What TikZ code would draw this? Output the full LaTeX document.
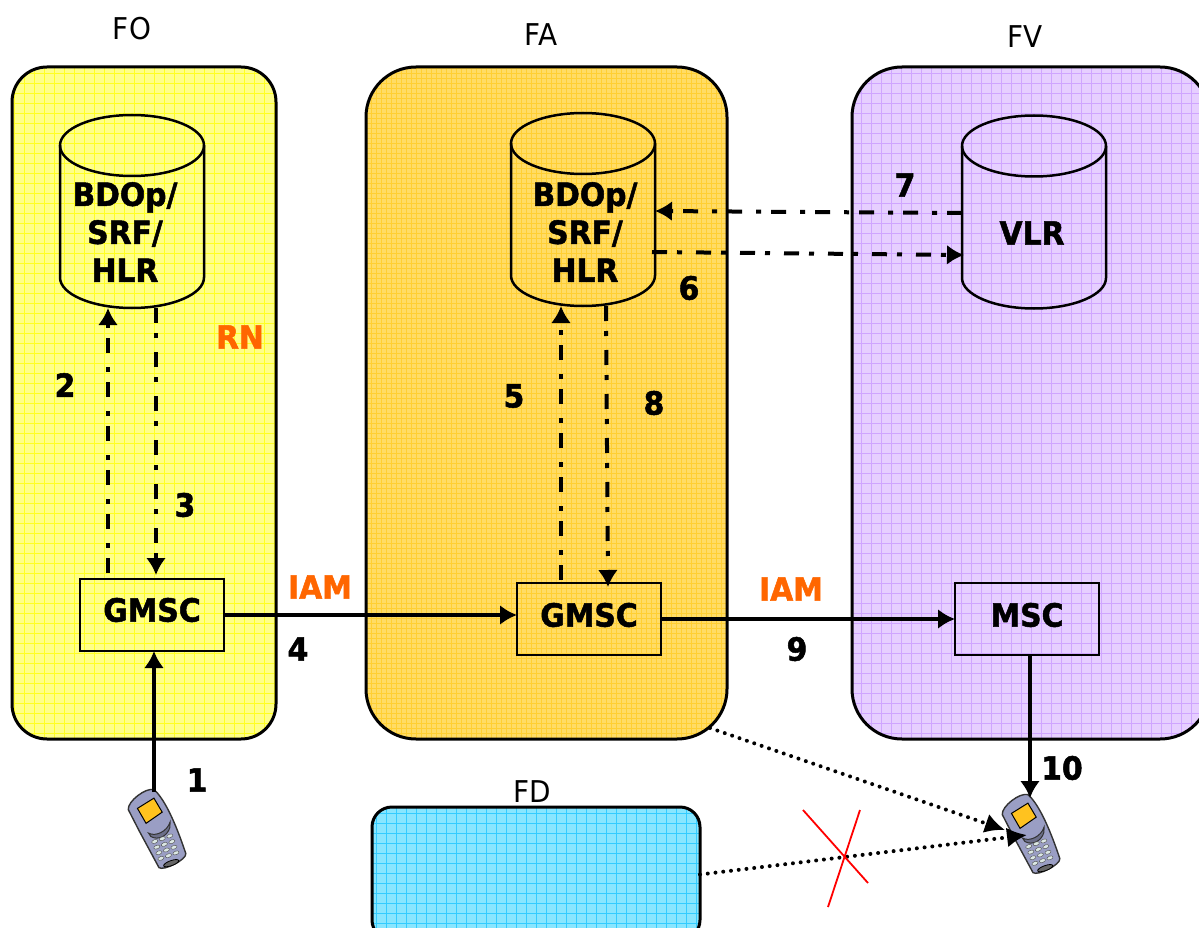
\documentclass[tikz,border=0pt]{standalone}
\usepackage{fontspec}
\setmainfont{DejaVu Sans}[FakeStretch=0.93,BoldFeatures={FakeBold=1.6}]
\usepackage{xcolor}
\usetikzlibrary{shapes,calc}
\usetikzlibrary{arrows.meta}
\definecolor{rnorange}{HTML}{FF6600}
\definecolor{zoneyellow}{HTML}{FFFF88}
\definecolor{gridyellow}{HTML}{FFFF22}
\definecolor{zoneorange}{HTML}{FFDC66}
\definecolor{gridorange}{HTML}{FFCF33}
\definecolor{zonepurple}{HTML}{E6CFFF}
\definecolor{gridpurple}{HTML}{CFA5FF}
\definecolor{zoneblue}{HTML}{88E6FF}
\definecolor{gridblue}{HTML}{33CCFF}
\definecolor{phonebody}{HTML}{9A9EC4}
\definecolor{phonekey}{HTML}{DCE8E4}
\definecolor{phonescreen}{HTML}{FFC21F}
\tikzset{
zone/.style={draw=black,line width=3pt,inner sep=0pt,outer sep=0pt,path picture={\draw[#1,line width=0.9pt] (path picture bounding box.south west) grid (path picture bounding box.north east);}},
dbase/.style={inner sep=0pt,outer sep=0pt,minimum width=144pt,minimum height=193pt},
swbox/.style={draw=black,line width=2.4pt,inner sep=0pt,outer sep=0pt,minimum width=144pt,minimum height=72pt},
lab/.style={font=\fontsize{32}{38}\selectfont\bfseries,align=center,inner sep=0pt},
ttl/.style={font=\fontsize{30}{36}\selectfont,inner sep=0pt},
iam/.style={lab,text=rnorange},
sig/.style={line width=4pt,-{Latex[length=17pt,width=20pt]}},
dashsig/.style={sig,dash pattern=on 15pt off 10pt on 5pt off 14pt},
dotsig/.style={line width=4pt,line cap=round,dash pattern=on 0pt off 7.8pt,-{Latex[length=20pt,width=20pt]}},
phone/.pic={
\filldraw[draw=black!80,line width=1.4pt,fill=phonebody] (-20,-29) .. controls (-18,-37) and (4,-44) .. (11,-39) .. controls (17,-28) and (20,-5) .. (19,32) .. controls (18,38) and (-8,41) .. (-11,36) -- (-17,-5) -- cycle;
\filldraw[draw=black,line width=1pt,fill=phonescreen] (-11,-27) -- (8,-31) -- (11,-15) -- (-8,-10) -- cycle;
\filldraw[draw=black!80,line width=1pt,fill=phonebody!70!black] (-9,0) .. controls (-4,6) and (9,5) .. (15,-3) -- (13,2) .. controls (7,10) and (-3,10) .. (-8,4) -- cycle;
\foreach \kx in {-6,2,10}
\foreach \ky in {10,16,22,28}
\fill[phonekey,draw=black!70,line width=0.4pt] (\kx,\ky) ellipse (3.2pt and 1.8pt);
\filldraw[draw=black,line width=0.8pt,fill=black!60] (2,36) ellipse (8pt and 2.5pt);
}
}
\newcommand{\dbshape}[1]{
\draw[line width=2.5pt] ($(#1.north)+(0,30.5)$) ellipse (72pt and 30.5pt);
\draw[line width=2.5pt] ($(#1.north west)+(0,30.5)$) -- ($(#1.south west)+(0,-30.5)$)
.. controls ($(#1.south west)+(0,-13.7)$) and ($(#1.south)+(-39.6,0)$) .. (#1.south)
.. controls ($(#1.south)+(39.6,0)$) and ($(#1.south east)+(0,-13.7)$) .. ($(#1.south east)+(0,-30.5)$)
-- ($(#1.north east)+(0,30.5)$);
}
\begin{document}
\begin{tikzpicture}[x=1pt,y=-1pt]
\useasboundingbox (0,0) rectangle (1199,928);
\node[zone={step=10pt,gridyellow},fill=zoneyellow,rounded corners=35pt,minimum width=264pt,minimum height=672pt] (fo) at (144,403) {};
\node[zone={step=5pt,gridorange},fill=zoneorange,rounded corners=50pt,minimum width=361pt,minimum height=672pt] (fa) at (546.5,403) {};
\node[zone={step=10pt,gridpurple},fill=zonepurple,rounded corners=50pt,minimum width=358pt,minimum height=672pt] (fv) at (1031,403) {};
\node[zone={step=10pt,gridblue},fill=zoneblue,rounded corners=20pt,minimum width=328pt,minimum height=133pt] (fd) at (536,873.5) {};
\node[ttl] (tfo) at (132,29) {FO};
\node[ttl] (tfa) at (541,35) {FA};
\node[ttl] (tfv) at (1025,37) {FV};
\node[ttl] (tfd) at (532,792) {FD};
\node[dbase] (dbo) at (132,211.5) {};
\node[dbase] (dba) at (583,209.5) {};
\node[dbase] (vlr) at (1034,212) {};
\dbshape{dbo}
\dbshape{dba}
\dbshape{vlr}
\node[lab] at (125,232) {BDOp/\\SRF/\\HLR};
\node[lab] at (585,232) {BDOp/\\SRF/\\HLR};
\node[lab] at (1032,233) {VLR};
\node[swbox] (gmo) at (152,615) {};
\node[lab] at (152,610) {GMSC};
\node[swbox] (gma) at (589,619) {};
\node[lab] at (589,615) {GMSC};
\node[swbox] (msc) at (1027,619) {};
\node[lab] at (1027,615) {MSC};
\pic at (157,830) [rotate=20] {phone};
\pic at (1031,835) [rotate=20] {phone};
\coordinate (pho) at (154,792);
\coordinate (phd) at (1030,798);
\coordinate (pha) at (1005,830);
\coordinate (phb) at (1027,835);
\draw[sig] (pho) -- (gmo.south -| pho);
\draw[dashsig] ([xshift=-44pt,yshift=6pt]gmo.north) -- ([xshift=-24pt]dbo.south);
\draw[dashsig] ([xshift=24pt]dbo.south) -- ([xshift=4pt,yshift=4pt]gmo.north);
\draw[sig] (gmo.east) -- (gma.west |- gmo.east);
\draw[dashsig] ([xshift=-28pt,yshift=3pt]gma.north) -- ([xshift=-22pt]dba.south);
\draw[dashsig] ([xshift=23pt]dba.south) -- ([xshift=19pt,yshift=-4pt]gma.north);
\draw[dashsig] ([yshift=-1pt]vlr.west) -- ([yshift=-1.5pt]dba.east);
\draw[dashsig] ([xshift=-3pt,yshift=-42.5pt]dba.east) -- ([xshift=2pt,yshift=-43pt]vlr.west);
\draw[sig] (gma.east) -- (msc.west);
\draw[sig] ([xshift=3pt]msc.south) -- (phd);
\draw[dotsig] ([xshift=-17pt,yshift=11pt]fa.south east) -- (pha);
\draw[dotsig] ([yshift=-1pt]fd.east) -- (phb);
\coordinate (xa) at (803,810);
\coordinate (xb) at (868,883);
\coordinate (xc) at (860,810);
\coordinate (xd) at (828,907);
\draw[red,line width=1.8pt] (xa) -- (xb);
\draw[red,line width=1.8pt] (xc) -- (xd);
\node[lab] at (197,780) {1};
\node[lab] at (65,385) {2};
\node[lab] at (185,505) {3};
\node[lab] at (298,649) {4};
\node[lab] at (514,396) {5};
\node[lab] at (689,288) {6};
\node[lab] at (905,185) {7};
\node[lab] at (654,403) {8};
\node[lab] at (797,649) {9};
\node[lab] at (1062,768) {10};
\node[iam] at (320,587) {IAM};
\node[iam] at (791,589) {IAM};
\node[iam] at (240,337) {RN};
\end{tikzpicture}
\end{document}
